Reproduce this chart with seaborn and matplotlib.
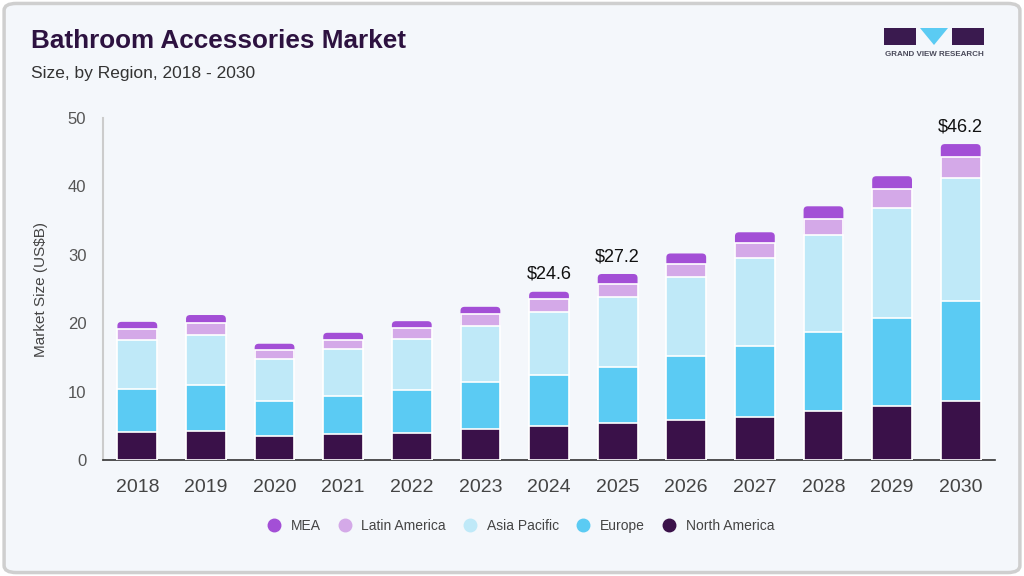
import matplotlib
matplotlib.use("Agg")
import matplotlib.pyplot as plt
from matplotlib.patches import FancyBboxPatch, Rectangle, Polygon
from matplotlib.lines import Line2D
import seaborn as sns
import pandas as pd

# market size by region, US$ billion
years = ["2018", "2019", "2020", "2021", "2022", "2023", "2024",
         "2025", "2026", "2027", "2028", "2029", "2030"]
north_america = [4.1, 4.3, 3.5, 3.8, 4.0, 4.5, 4.9, 5.4, 5.8, 6.3, 7.1, 7.9, 8.7]
europe = [6.3, 6.6, 5.2, 5.6, 6.3, 6.9, 7.6, 8.2, 9.4, 10.4, 11.6, 12.9, 14.5]
asia_pacific = [7.2, 7.4, 6.1, 6.9, 7.4, 8.2, 9.1, 10.3, 11.5, 12.8, 14.2, 16.1, 18.0]
latin_america = [1.6, 1.8, 1.3, 1.3, 1.6, 1.7, 1.9, 1.9, 2.0, 2.3, 2.4, 2.8, 3.1]
mea = [1.0, 1.1, 0.9, 1.0, 1.0, 1.1, 1.1, 1.4, 1.5, 1.5, 1.8, 1.8, 1.9]
labelled_years = ["2024", "2025", "2030"]

regions = ["North America", "Europe", "Asia Pacific", "Latin America", "MEA"]
colors = {"North America": "#3a1149", "Europe": "#5bcbf3", "Asia Pacific": "#bfe9f8",
          "Latin America": "#d4a9e8", "MEA": "#a34fd6"}

df = pd.DataFrame({"year": years, "North America": north_america, "Europe": europe,
                   "Asia Pacific": asia_pacific, "Latin America": latin_america, "MEA": mea})
cum = df[regions].cumsum(axis=1)

sns.set_style("white")
plt.rcParams["font.family"] = ["Liberation Sans", "DejaVu Sans"]

bg = "#f4f7fb"
fig = plt.figure(figsize=(10.24, 5.76), dpi=100, facecolor="white")
fig.patches.append(FancyBboxPatch((0.004, 0.006), 0.992, 0.988,
                                  boxstyle="round,pad=0,rounding_size=0.012",
                                  transform=fig.transFigure, facecolor=bg,
                                  edgecolor="#cfcfcf", linewidth=2.5, zorder=-10))
ax = fig.add_axes([0.1006, 0.2014, 0.8711, 0.5936])
ax.set_facecolor(bg)

# stacked bars: draw cumulative totals from top layer down
for i, reg in enumerate(reversed(regions)):
    sns.barplot(x=df["year"], y=cum[reg], color=colors[reg], width=0.58,
                edgecolor="white", linewidth=1.2, saturation=1, ax=ax, zorder=2 + i)

# round the top corners of the MEA layer (first drawn)
n = len(years)
for p in list(ax.patches[:n]):
    x, y0 = p.get_x(), p.get_y()
    w, h = p.get_width(), p.get_height()
    rp = FancyBboxPatch((x, y0), w, h, boxstyle="round,pad=0,rounding_size=0.06",
                        mutation_aspect=9.5, facecolor=colors["MEA"],
                        edgecolor="none", zorder=1.9)
    p.remove()
    ax.add_patch(rp)

for yr in labelled_years:
    i = years.index(yr)
    tot = cum["MEA"][i]
    ax.text(i, tot + 1.3, f"${tot:.1f}", ha="center", va="bottom",
            fontsize=13, color="#111111")

ax.set_xlim(-0.5, 12.5)
ax.set_ylim(0, 50)
ax.set_yticks([0, 10, 20, 30, 40, 50])
ax.set_xlabel("")
ax.set_ylabel("Market Size (US$B)", fontsize=11, color="#444444", labelpad=14)
ax.tick_params(axis="x", labelsize=14, colors="#444444", length=0, pad=14)
ax.tick_params(axis="y", labelsize=12, colors="#555555", length=0, pad=12)
for s in ["top", "right"]:
    ax.spines[s].set_visible(False)
ax.spines["left"].set_color("#cccccc")
ax.spines["left"].set_linewidth(1.5)
ax.spines["bottom"].set_color("#333333")
ax.spines["bottom"].set_linewidth(1.2)

handles = [Line2D([], [], marker="o", linestyle="", markersize=9,
                  markerfacecolor=colors[r], markeredgecolor=colors[r], label=r)
           for r in reversed(regions)]
fig.legend(handles=handles, loc="center", bbox_to_anchor=(0.505, 0.087), ncol=5,
           frameon=False, fontsize=10, handletextpad=0.2, columnspacing=0.75,
           labelcolor="#444444")

fig.text(0.030, 0.929, "Bathroom Accessories Market", fontsize=18.8, fontweight="bold",
         color="#2d1240", va="center")
fig.text(0.030, 0.872, "Size, by Region, 2018 - 2030", fontsize=12.5,
         color="#333333", va="center")

# logo
lc = "#3a1a4f"
fig.patches.append(Rectangle((884 / 1024, 1 - 45 / 576), 32 / 1024, 17 / 576,
                             transform=fig.transFigure, facecolor=lc, edgecolor="none"))
fig.patches.append(Polygon([(920 / 1024, 1 - 28 / 576), (948 / 1024, 1 - 28 / 576),
                            (934 / 1024, 1 - 45 / 576)], closed=True,
                           transform=fig.transFigure, facecolor="#5bcbf3", edgecolor="none"))
fig.patches.append(Rectangle((952 / 1024, 1 - 45 / 576), 32 / 1024, 17 / 576,
                             transform=fig.transFigure, facecolor=lc, edgecolor="none"))
fig.text(934 / 1024, 1 - 55 / 576, "GRAND VIEW RESEARCH", fontsize=5.8,
         fontweight="bold", color="#4a4a5a", ha="center", va="center")

fig.savefig("out.png", dpi=100, facecolor="white")
